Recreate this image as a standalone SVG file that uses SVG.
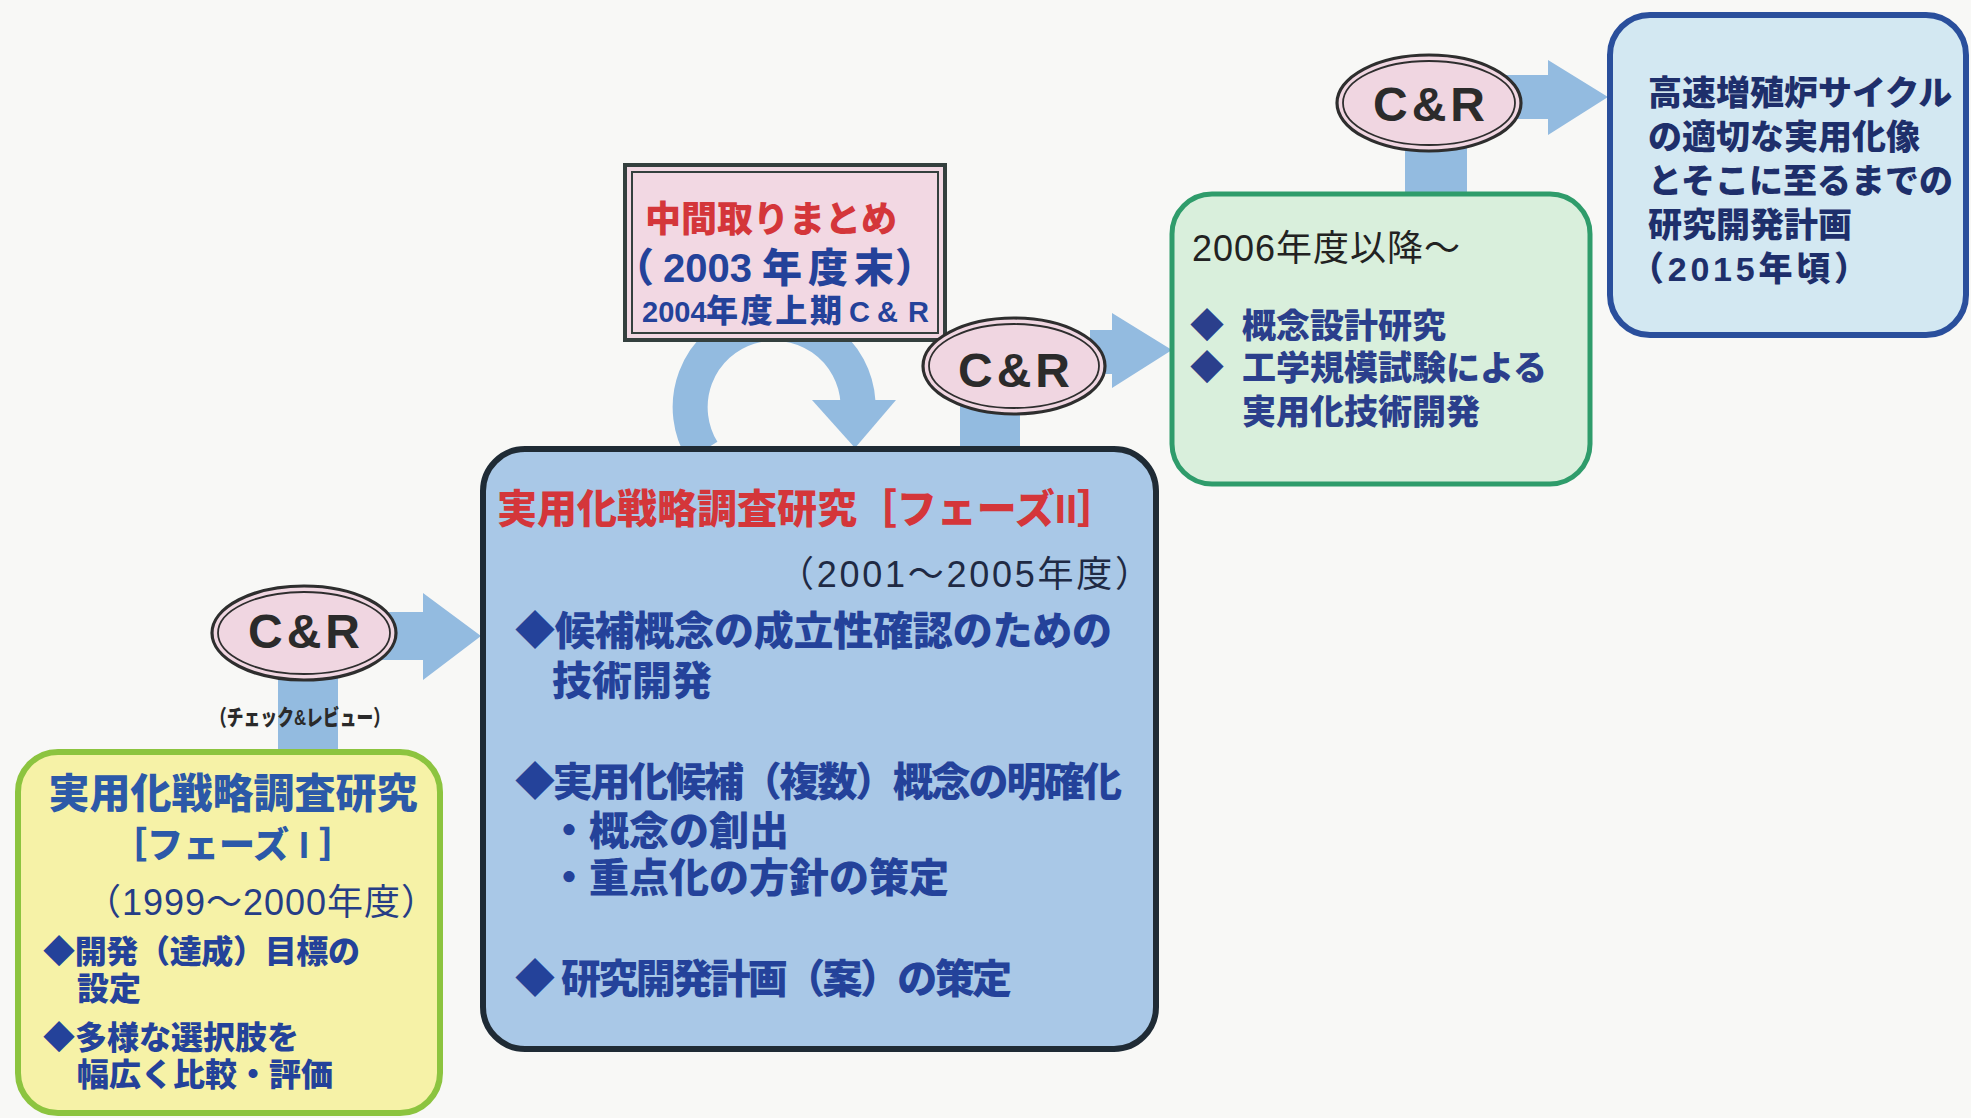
<svg xmlns="http://www.w3.org/2000/svg" width="1971" height="1118" viewBox="0 0 1971 1118">
<style>
  .t { font-family: "Liberation Sans", "Noto Sans CJK JP", sans-serif; }
  .b { font-weight: 900; }
  .r { font-weight: 400; }
  .navy { fill: #24429a; }
  .dark { fill: #1e2f6b; }
  .red { fill: #d4363a; }
  .arrow { fill: #93bbe0; }
  .cr-outer { fill: #f0d6e1; stroke: #2e2e2e; stroke-width: 3.2; }
  .cr-inner { fill: none; stroke: #2e2e2e; stroke-width: 1.8; }
  .cr-text { font-family: "Liberation Sans", sans-serif; font-weight: 700; font-size: 48px; fill: #2b2b2b; letter-spacing: 4px; }
</style>
<rect x="0" y="0" width="1971" height="1118" fill="#f8f8f6"/>

<g id="connectors">
  <!-- phase I to C&R to phase II -->
  <rect class="arrow" x="278" y="660" width="60" height="94"/>
  <polygon class="arrow" points="380,612 423,612 423,593 481,636 423,680 423,660 380,660"/>
  <!-- loop arrow (interim summary) -->
  <path d="M 702.5 451 A 84 84 0 1 1 858 402" fill="none" stroke="#93bbe0" stroke-width="35"/>
  <polygon class="arrow" points="812,400 896,400 855,448"/>
  <!-- phase II to C&R to 2006 -->
  <rect class="arrow" x="960" y="395" width="60" height="55"/>
  <polygon class="arrow" points="1090,330 1112,330 1112,313 1172,350 1112,388 1112,374 1090,374"/>
  <!-- 2006 to C&R to final -->
  <rect class="arrow" x="1405" y="135" width="62" height="60"/>
  <polygon class="arrow" points="1500,75 1548,75 1548,60 1608,97 1548,135 1548,119 1500,119"/>
</g>

<g id="phase1">
  <rect x="18" y="752" width="422" height="361" rx="40" fill="#f6f2a7" stroke="#8cc43f" stroke-width="6"/>
  <text class="t b" x="233" y="808" font-size="41" text-anchor="middle" fill="#2c59a8">実用化戦略調査研究</text>
  <text class="t b" x="233" y="858" font-size="36" text-anchor="middle" fill="#2c59a8">［フェーズ I ］</text>
  <text class="t r" x="85" y="915" font-size="36" textLength="352" fill="#263d86">（1999～2000年度）</text>
  <text class="t b navy" x="43" y="963" font-size="32" textLength="317">◆開発（達成）目標の</text>
  <text class="t b navy" x="77" y="1000" font-size="32">設定</text>
  <text class="t b navy" x="43" y="1049" font-size="32">◆多様な選択肢を</text>
  <text class="t b navy" x="77" y="1086" font-size="32">幅広く比較・評価</text>
</g>

<g id="cr1">
  <ellipse class="cr-outer" cx="304" cy="633" rx="92" ry="47"/>
  <ellipse class="cr-inner" cx="304" cy="633" rx="86" ry="41"/>
  <text class="cr-text" x="306" y="648" text-anchor="middle">C&amp;R</text>
  <text class="t b" x="210" y="725" font-size="22" textLength="180" lengthAdjust="spacingAndGlyphs" fill="#2a2a2a">（チェック&amp;レビュー）</text>
</g>

<g id="phase2">
  <rect x="483" y="449" width="673" height="600" rx="42" fill="#a9c8e7" stroke="#1f2b35" stroke-width="6"/>
  <text class="t b red" x="497" y="523" font-size="40" textLength="620">実用化戦略調査研究［フェーズII］</text>
  <text class="t r" x="778" y="587" font-size="36" textLength="373" fill="#1f2a44">（2001～2005年度）</text>
  <text class="t b navy" x="515" y="645" font-size="40" textLength="597">◆候補概念の成立性確認のための</text>
  <text class="t b navy" x="552" y="695" font-size="40">技術開発</text>
  <text class="t b navy" x="515" y="796" font-size="40" textLength="607">◆実用化候補（複数）概念の明確化</text>
  <text class="t b navy" x="549" y="845" font-size="40">・概念の創出</text>
  <text class="t b navy" x="549" y="892" font-size="40">・重点化の方針の策定</text>
  <text class="t b navy" x="515" y="993" font-size="40" textLength="497">◆ 研究開発計画（案）の策定</text>
</g>

<g id="interim">
  <rect x="625" y="165" width="320" height="175" fill="#f2d8e3" stroke="#34403e" stroke-width="4"/>
  <rect x="632" y="172" width="306" height="161" fill="none" stroke="#34403e" stroke-width="2"/>
  <text class="t b red" x="645" y="232" font-size="36">中間取りまとめ</text>
  <text class="t b navy" y="282" font-size="40"><tspan x="614">（</tspan><tspan x="663">2003</tspan><tspan x="762">年</tspan><tspan x="808">度</tspan><tspan x="854">末</tspan><tspan x="895">）</tspan></text>
  <text class="t b navy" y="322" font-size="29"><tspan x="642">2004</tspan><tspan x="706" font-size="32" textLength="136">年度上期</tspan><tspan x="842"> </tspan><tspan x="849">C</tspan><tspan x="877">&amp;</tspan><tspan x="908">R</tspan></text>
</g>

<g id="cr2">
  <ellipse class="cr-outer" cx="1014" cy="366" rx="91" ry="48"/>
  <ellipse class="cr-inner" cx="1014" cy="366" rx="85" ry="42"/>
  <text class="cr-text" x="1016" y="387" text-anchor="middle">C&amp;R</text>
</g>

<g id="after2006">
  <rect x="1172" y="194" width="418" height="290" rx="40" fill="#d9efdc" stroke="#2f9c6b" stroke-width="5"/>
  <text class="t r" x="1192" y="261" font-size="36" textLength="268" fill="#222222">2006年度以降～</text>
  <text class="t b" y="338" font-size="34" fill="#2b3f8c"><tspan x="1190">◆</tspan><tspan x="1242">概念設計研究</tspan></text>
  <text class="t b" y="380" font-size="34" fill="#2b3f8c"><tspan x="1190">◆</tspan><tspan x="1242">工学規模試験による</tspan></text>
  <text class="t b" x="1242" y="424" font-size="34" fill="#2b3f8c">実用化技術開発</text>
</g>

<g id="cr3">
  <ellipse class="cr-outer" cx="1429" cy="103" rx="92" ry="48"/>
  <ellipse class="cr-inner" cx="1429" cy="103" rx="86" ry="42"/>
  <text class="cr-text" x="1431" y="121" text-anchor="middle">C&amp;R</text>
</g>

<g id="final">
  <rect x="1610" y="15" width="356" height="320" rx="40" fill="#d3e8f2" stroke="#2a4f9c" stroke-width="6"/>
  <text class="t b dark" x="1648" y="105" font-size="34">高速増殖炉サイクル</text>
  <text class="t b dark" x="1648" y="149" font-size="34">の適切な実用化像</text>
  <text class="t b dark" x="1648" y="193" font-size="34">とそこに至るまでの</text>
  <text class="t b dark" x="1648" y="237" font-size="34">研究開発計画</text>
  <text class="t b dark" x="1630" y="281" font-size="34" textLength="238">（2015年頃）</text>
</g>
</svg>
